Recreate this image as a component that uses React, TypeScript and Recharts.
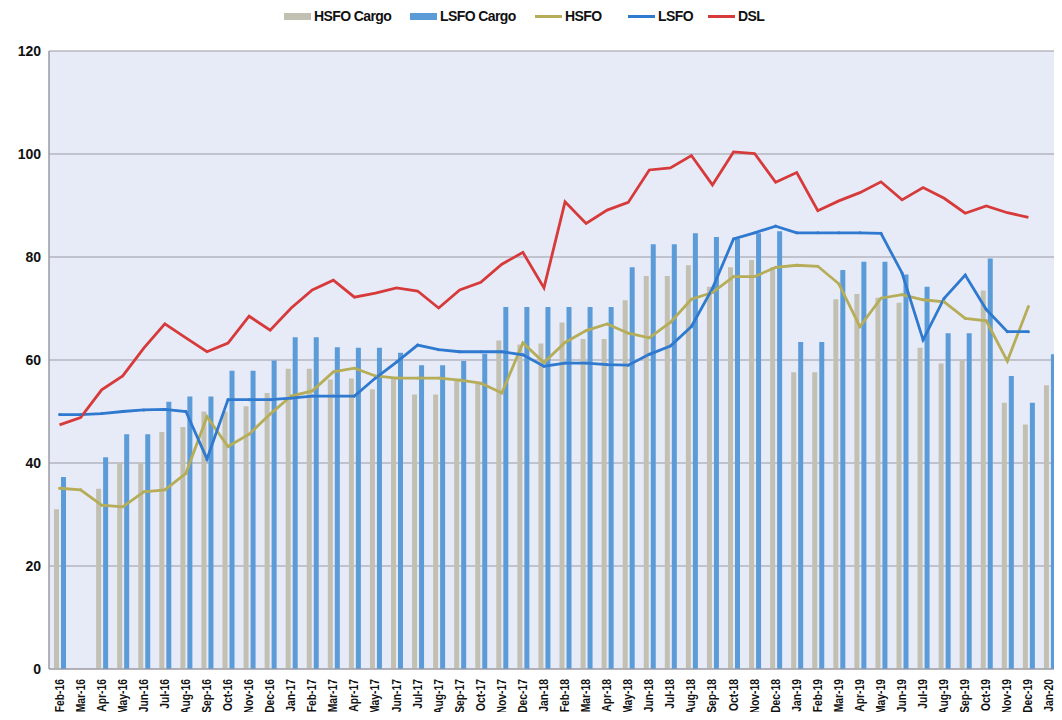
import React from 'react';
import { ComposedChart, Bar, Line, XAxis, YAxis, CartesianGrid } from 'recharts';

const months = [
  'Feb-16', 'Mar-16', 'Apr-16', 'May-16', 'Jun-16', 'Jul-16', 'Aug-16', 'Sep-16', 'Oct-16', 'Nov-16', 'Dec-16',
  'Jan-17', 'Feb-17', 'Mar-17', 'Apr-17', 'May-17', 'Jun-17', 'Jul-17', 'Aug-17', 'Sep-17', 'Oct-17', 'Nov-17', 'Dec-17',
  'Jan-18', 'Feb-18', 'Mar-18', 'Apr-18', 'May-18', 'Jun-18', 'Jul-18', 'Aug-18', 'Sep-18', 'Oct-18', 'Nov-18', 'Dec-18',
  'Jan-19', 'Feb-19', 'Mar-19', 'Apr-19', 'May-19', 'Jun-19', 'Jul-19', 'Aug-19', 'Sep-19', 'Oct-19', 'Nov-19', 'Dec-19',
  'Jan-20',
];

const hsfoCargo = [
  31, null, 35, 40, 40, 46, 47, 50, 50, 51, 53.6,
  58.3, 58.3, 56.2, 56.4, 54.3, 56.4, 53.3, 53.3, 56, 55.4, 63.8, 63,
  63.2, 67.3, 64.1, 64.1, 71.6, 76.3, 76.3, 78.4, 74.2, 78, 79.4, 78,
  57.6, 57.6, 71.8, 72.8, 72.1, 71.1, 62.4, 59.3, 60, 73.5, 51.7, 47.5,
  55.1,
];

const lsfoCargo = [
  37.3, null, 41.1, 45.6, 45.6, 51.9, 52.9, 52.9, 57.9, 57.9, 59.9,
  64.4, 64.4, 62.5, 62.4, 62.4, 61.4, 59, 59, 59.8, 61.2, 70.3, 70.3,
  70.3, 70.3, 70.3, 70.3, 78, 82.5, 82.5, 84.6, 83.9, 83.5, 84.6, 85,
  63.5, 63.5, 77.5, 79.1, 79.1, 76.6, 74.2, 65.2, 65.2, 79.7, 56.9, 51.7,
  61.1,
];

const hsfo = [
  35.1, 34.8, 31.8, 31.5, 34.4, 34.8, 38, 49, 43.2, 45.6, 49.5,
  53, 54, 57.7, 58.4, 56.9, 56.5, 56.5, 56.5, 56.1, 55.5, 53.6, 63.3,
  59.5, 63.4, 65.7, 67, 65.2, 64.3, 67.3, 71.8, 73.1, 76.2, 76.2, 78,
  78.4, 78.2, 74.8, 66.5, 72, 72.7, 71.7, 71.3, 68.1, 67.6, 59.8, 70.4,
  null,
];

const lsfo = [
  49.4, 49.4, 49.6, 50, 50.3, 50.4, 50, 40.8, 52.3, 52.3, 52.3,
  52.6, 53, 53, 53, 56.5, 59.6, 62.9, 62, 61.6, 61.6, 61.6, 61,
  58.8, 59.4, 59.4, 59.1, 59, 61.1, 62.7, 66.5, 73.9, 83.5, 84.7, 86,
  84.7, 84.7, 84.7, 84.7, 84.6, 76.9, 63.9, 72, 76.5, 69.8, 65.5, 65.5,
  null,
];

const dsl = [
  47.4, 48.8, 54.2, 56.9, 62.3, 67, 64.3, 61.6, 63.3, 68.5, 65.8,
  70.1, 73.6, 75.5, 72.2, 73, 74, 73.4, 70.1, 73.6, 75.1, 78.6, 80.9,
  74, 90.7, 86.5, 89.1, 90.6, 96.9, 97.3, 99.7, 94, 100.4, 100.1, 94.5,
  96.4, 89, 90.9, 92.5, 94.6, 91.1, 93.5, 91.4, 88.5, 89.9, 88.6, 87.7,
  null,
];

const yTicks = [0, 20, 40, 60, 80, 100, 120];

const chartData = months.map((m, i) => ({
  month: m,
  hsfoCargo: hsfoCargo[i],
  lsfoCargo: lsfoCargo[i],
  hsfo: hsfo[i],
  lsfo: lsfo[i],
  dsl: dsl[i],
}));

const C = {
  hsfoCargo: '#c2c0b2',
  lsfoCargo: '#5b9bd8',
  hsfo: '#b6ad58',
  lsfo: '#2f79cf',
  dsl: '#d63a3a',
};

const labelFont = '"Liberation Sans", Arial, sans-serif';

// rotated month labels, squeezed a bit to look like the narrow font of the original
const MonthTick = (props: any) => {
  const { x, y, payload } = props;
  return (
    <text
      x={0}
      y={0}
      transform={`translate(${x + 4},${y + 2}) rotate(-90) scale(0.86,1)`}
      textAnchor="end"
      fontSize={12}
      fontWeight="bold"
      fontFamily={labelFont}
      fill="#111"
    >
      {payload.value}
    </text>
  );
};

const legendItems = [
  { name: 'HSFO Cargo', color: C.hsfoCargo, kind: 'bar', x: 284 },
  { name: 'LSFO Cargo', color: C.lsfoCargo, kind: 'bar', x: 410 },
  { name: 'HSFO', color: C.hsfo, kind: 'line', x: 535 },
  { name: 'LSFO', color: C.lsfo, kind: 'line', x: 628 },
  { name: 'DSL', color: C.dsl, kind: 'line', x: 708 },
];

const TopLegend = () => (
  <div style={{ position: 'absolute', left: 0, top: 0, width: 1062, height: 30, fontFamily: labelFont, fontWeight: 'bold', fontSize: 14, color: '#111', letterSpacing: -0.6 }}>
    {legendItems.map(it => (
      <div key={it.name} style={{ position: 'absolute', left: it.x, top: 7, display: 'flex', alignItems: 'center', height: 18 }}>
        <span
          style={{
            display: 'inline-block',
            width: 27,
            height: it.kind === 'bar' ? 7 : 3,
            background: it.color,
            marginRight: 3,
          }}
        />
        <span>{it.name}</span>
      </div>
    ))}
  </div>
);

export default function App() {
  return (
    <div style={{ position: 'relative', margin: -8, width: 1062, height: 720, background: '#fff' }}>
      <ComposedChart
        width={1062}
        height={720}
        data={chartData}
        margin={{ top: 51, right: 2, left: 0, bottom: 3 }}
        barGap={2}
        barCategoryGap={0}
      >
        <CartesianGrid vertical={false} stroke="#9a9aa2" strokeWidth={1.2} fill="#e7ebf8" />
        <XAxis
          dataKey="month"
          interval={0}
          tick={<MonthTick />}
          tickLine={false}
          axisLine={{ stroke: '#9a9aa2' }}
          height={48}
        />
        <YAxis
          domain={[0, 120]}
          ticks={yTicks}
          width={49}
          tickLine={false}
          axisLine={{ stroke: '#9a9aa2', strokeWidth: 1.5 }}
          tick={{ fontSize: 14, fontWeight: 'bold', fill: '#111', fontFamily: labelFont }}
        />
        <Bar dataKey="hsfoCargo" name="HSFO Cargo" fill={C.hsfoCargo} barSize={5} isAnimationActive={false} />
        <Bar dataKey="lsfoCargo" name="LSFO Cargo" fill={C.lsfoCargo} barSize={5} isAnimationActive={false} />
        <Line dataKey="hsfo" name="HSFO" stroke={C.hsfo} strokeWidth={2.8} dot={{ r: 1.5, fill: C.hsfo, strokeWidth: 0 }} type="linear" isAnimationActive={false} />
        <Line dataKey="lsfo" name="LSFO" stroke={C.lsfo} strokeWidth={2.8} dot={{ r: 1.5, fill: C.lsfo, strokeWidth: 0 }} type="linear" isAnimationActive={false} />
        <Line dataKey="dsl" name="DSL" stroke={C.dsl} strokeWidth={2.8} dot={false} type="linear" isAnimationActive={false} />
      </ComposedChart>
      <TopLegend />
    </div>
  );
}
